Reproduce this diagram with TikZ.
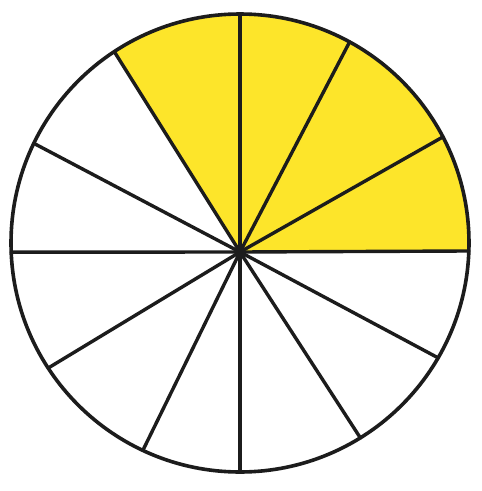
\documentclass[tikz,border=0pt]{standalone}
\usetikzlibrary{calc}
\definecolor{sectoryellow}{RGB}{253,229,42}
\definecolor{inkline}{RGB}{28,28,28}
\tikzset{
  outline/.style={draw=inkline, line width=3.6pt},
  spoke/.style={draw=inkline, line width=3.4pt, line cap=round},
  shaded/.style={fill=sectoryellow}
}
\begin{document}
\begin{tikzpicture}[x=1pt,y=1pt]
\useasboundingbox (0,0) rectangle (482,-491);
\fill[white] (0,0) rectangle (482,-491);
\coordinate (C) at (240,-243);
\coordinate (H) at (240,-252);
\def\R{229}
% yellow sectors
\fill[shaded] (H) -- ($(C)+(-2:\R)$) arc[start angle=-2, end angle=123.3, radius=\R] -- cycle;
% spokes
\foreach \a in {-2,27.6,61.4,90,123.3,154.2,182.3,213.1,244.9,270,301.7,329.9}{
  \draw[spoke] (H) -- ($(C)+(\a:\R)$);
}
\draw[outline] (C) circle[radius=\R];
\end{tikzpicture}
\end{document}
